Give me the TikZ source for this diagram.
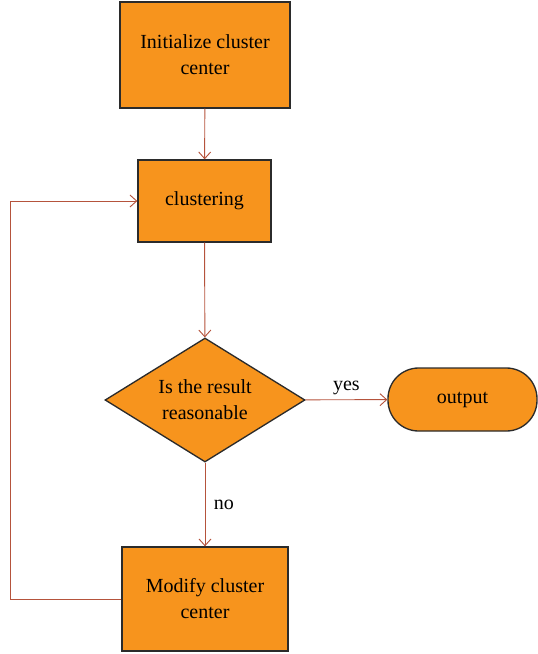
\documentclass[tikz,border=0pt]{standalone}
\usepackage{fontspec}
\setmainfont{Liberation Serif}
\usetikzlibrary{shapes.geometric,arrows.meta}
\definecolor{boxorange}{HTML}{F7941D}
\definecolor{linkred}{HTML}{B5533C}
\definecolor{edgegray}{HTML}{2B2B2B}

\begin{document}
\begin{tikzpicture}[x=0.75pt,y=-0.75pt,
    stepbox/.style={rectangle,draw=edgegray,line width=1pt,fill=boxorange,align=center,font=\fontsize{15}{19.5}\selectfont},
    decision/.style={diamond,draw=edgegray,line width=1pt,fill=boxorange,align=center,inner sep=-6pt,shape aspect=1.6,font=\fontsize{15}{19.5}\selectfont},
    terminal/.style={rectangle,rounded corners=23pt,draw=edgegray,line width=1pt,fill=boxorange,font=\fontsize{15}{19.5}\selectfont},
    link/.style={draw=linkred,line width=0.7pt,-{Straight Barb[length=5pt,width=9pt]}}]
    \useasboundingbox (0,0) rectangle (538,654);

    % Boxes
    \node[stepbox,minimum width=127.5pt,minimum height=79.5pt] (init) at (205,55) {Initialize cluster\\center};
    \node[stepbox,minimum width=99.75pt,minimum height=61.5pt] (cluster) at (204.5,201) {clustering};
    \node[decision,minimum width=150pt,minimum height=93pt] (check) at (205,400) {Is the result\\reasonable};
    \node[terminal,minimum width=111.75pt,minimum height=47.25pt] (output) at (462.5,399.5) {output};
    \node[stepbox,minimum width=124.5pt,minimum height=78pt] (modify) at (205,599) {Modify cluster\\center};

    % Loop corners
    \coordinate (loopA) at (10,599);
    \coordinate (loopB) at (10,201);

    % Arrows
    \draw[link] (init) -- (cluster);
    \draw[link] (cluster) -- (check);
    \draw[link] (check) -- (output) node[midway,above,font=\fontsize{15}{17}\selectfont] {yes};
    \draw[link] (check) -- (modify) node[midway,right,xshift=3pt,font=\fontsize{15}{17}\selectfont] {no};
    \draw[link] (modify.west) -- (loopA) -- (loopB) -- (cluster.west);
\end{tikzpicture}
\end{document}
